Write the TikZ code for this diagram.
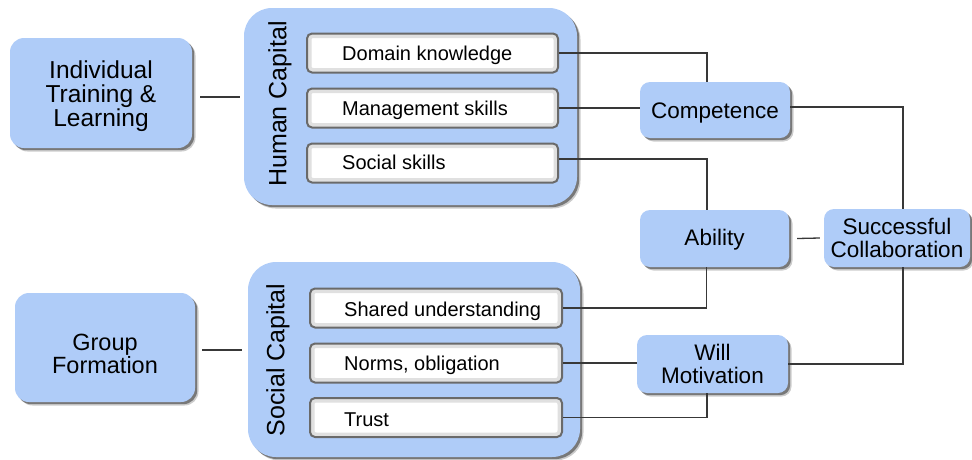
\documentclass[tikz,border=0pt]{standalone}
\usepackage{fontspec}
\setmainfont{Liberation Sans}
\usetikzlibrary{shadows,calc}
\definecolor{boxblue}{HTML}{AFCCF8}
\definecolor{linegray}{HTML}{383838}
\definecolor{inborder}{HTML}{6A6A6A}
\tikzset{
  softshadow/.style={
    general shadow={shadow xshift=3.5pt, shadow yshift=-3.5pt, fill=black, opacity=0.2},
    general shadow={shadow xshift=2.2pt, shadow yshift=-2.2pt, fill=black!75, opacity=0.6}},
  bluebox/.style={fill=boxblue, draw=none, rounded corners=#1, softshadow, inner sep=0pt, align=center,
    font=\fontsize{22.5}{23.5}\selectfont},
  bluebox/.default=10pt,
  bluetext/.style={inner sep=0pt, align=center, font=\fontsize{#1}{#1}\selectfont},
  bigbox/.style={fill=boxblue, draw=none, rounded corners=28pt, softshadow, inner sep=0pt},
  inbox/.style={fill=white, draw=inborder, line width=2pt, rounded corners=5pt, inner sep=0pt,
    minimum width=251pt, minimum height=39pt,
    path picture={\draw[black!25, line width=5pt, rounded corners=5pt]
      (path picture bounding box.south west) rectangle (path picture bounding box.north east);
      \draw[black!12, line width=9pt, rounded corners=6pt]
      (path picture bounding box.south west) rectangle (path picture bounding box.north east);}},
  intext/.style={anchor=base west, inner sep=0pt, font=\fontsize{20}{24}\selectfont},
  rottext/.style={rotate=90, inner sep=0pt, font=\fontsize{25}{28}\selectfont},
  conn/.style={draw=linegray, line width=1.3pt}
}
\begin{document}
\begin{tikzpicture}[x=1pt, y=-1pt]
\useasboundingbox (0,0) rectangle (972,459);
% left boxes
\node[bluebox=14pt, minimum width=182pt, minimum height=110pt] (itl) at (101,93) {};
\node[bluetext=24.5, font=\fontsize{24.5}{24}\selectfont] (itlt) at ([yshift=-3.5pt]itl.center)
  {Individual\\Training \&\\Learning};
\node[bluebox=14pt, minimum width=180pt, minimum height=109pt] (grp) at (105,347.5) {};
\node[bluetext=23.5, font=\fontsize{23.5}{23}\selectfont] (grpt) at ([yshift=-6pt]grp.center)
  {Group\\Formation};
% capital boxes
\node[bigbox, minimum width=333pt, minimum height=197pt] (hc) at (410.5,106.5) {};
\node[bigbox, minimum width=332pt, minimum height=195pt] (sc) at (414,359.5) {};
\node[rottext] (hct) at (280,104) {Human Capital};
\node[rottext] (sct) at (278,360) {Social Capital};
% inner boxes
\node[inbox] (dk) at (432.5,53) {};
\node[inbox] (ms) at (432.5,108) {};
\node[inbox] (ss) at (432.5,163) {};
\node[intext] (dkt) at ([xshift=36pt,yshift=-7pt]dk.west) {Domain knowledge};
\node[intext] (mst) at ([xshift=36pt,yshift=-7pt]ms.west) {Management skills};
\node[intext] (sst) at ([xshift=36pt,yshift=-6pt]ss.west) {Social skills};
\node[inbox, minimum width=252pt] (su) at (436,308) {};
\node[inbox, minimum width=252pt] (no) at (436,363) {};
\node[inbox, minimum width=252pt] (tr) at (436,417.5) {};
\node[intext] (sut) at ([xshift=35pt,yshift=-8pt]su.west) {Shared understanding};
\node[intext] (not) at ([xshift=35pt,yshift=-7.5pt]no.west) {Norms, obligation};
\node[intext] (trt) at ([xshift=35pt,yshift=-8.5pt]tr.west) {Trust};
% right boxes
\node[bluebox, minimum width=150pt, minimum height=56pt] (comp) at (715,110) {};
\node[bluetext=22.5, anchor=base] (compt) at ([yshift=-8pt]comp.center) {Competence};
\node[bluebox, minimum width=149pt, minimum height=57pt] (abil) at (714.5,238.5) {};
\node[bluetext=22.5, anchor=base] (abilt) at ([yshift=-7pt]abil.center) {Ability};
\node[bluebox, minimum width=151pt, minimum height=58pt] (will) at (712.5,364) {Will\\Motivation};
\node[bluebox, minimum width=146pt, minimum height=58pt] (succ) at (897,238) {Successful\\Collaboration};
% connectors
\draw[conn] ($(itl.east)+(8,4)$) -- ($(hc.west |- itl.east)+(-4,4)$);
\draw[conn] ($(grp.east)+(7,2.5)$) -- ($(sc.west |- grp.east)+(-6,2.5)$);
\draw[conn] (dk.east) -| ([xshift=-8pt]comp.north);
\draw[conn] (ms.east) -- (ms.east -| comp.west);
\draw[conn] ([yshift=3pt]comp.east) -| ([xshift=6pt]succ.north);
\draw[conn] ([yshift=4pt]ss.east) -| ([xshift=-7.5pt]abil.north);
\draw[conn] (su.east) -| ([xshift=-8pt]abil.south);
\draw[conn] (no.east) -- (no.east -| will.west);
\draw[conn] (tr.east) -| ([xshift=-5.5pt]will.south);
\draw[conn] ([xshift=6pt]succ.south) |- (will.east);
\draw[conn] ([xshift=8pt]abil.east) -- ([xshift=-4pt]succ.west);
\end{tikzpicture}
\end{document}
